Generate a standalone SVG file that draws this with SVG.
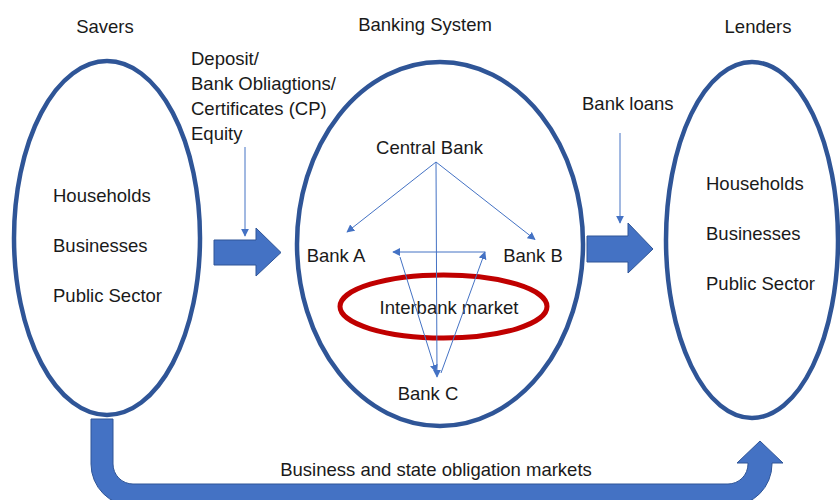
<svg xmlns="http://www.w3.org/2000/svg" width="840" height="500" viewBox="0 0 840 500">
  <style>
    .lbl { font-family: "Liberation Sans", Arial, sans-serif; font-size: 18.5px; fill: #1a1a1a; }
    .big { fill: #fff; stroke: #2F5597; stroke-width: 4.5; }
    .blk { fill: #4472C4; stroke: #2F5597; stroke-width: 1; }
    .thin { fill: none; stroke: #4472C4; stroke-width: 1; marker-end: url(#ah); }
  </style>
  <defs>
    <marker id="ah" viewBox="0 0 10 10" refX="9" refY="5" markerWidth="8" markerHeight="8" markerUnits="userSpaceOnUse" orient="auto">
      <path d="M0,0 L10,5 L0,10 z" fill="#4472C4"/>
    </marker>
  </defs>
  <rect width="840" height="500" fill="#fff"/>

  <!-- bottom U-shaped flow arrow from savers to lenders -->
  <g id="market-flow">
    <path class="blk" d="M91,419 L91,464 A42,42 0 0 0 133,506 L730,506 A42,42 0 0 0 772,464 L772,463 L783,463 L760,441 L737,463 L748,463 L748,464 A20,20 0 0 1 728,484 L133,484 A20,20 0 0 1 113,464 L113,419 Z"/>
    <text class="lbl" x="436" y="476" text-anchor="middle">Business and state obligation markets</text>
  </g>

  <!-- savers -->
  <g id="savers">
    <ellipse class="big" cx="107" cy="238" rx="93" ry="177"/>
    <text class="lbl" x="105" y="33" text-anchor="middle">Savers</text>
    <text class="lbl" x="53" y="202">Households</text>
    <text class="lbl" x="53" y="252">Businesses</text>
    <text class="lbl" x="53" y="302">Public Sector</text>
  </g>

  <!-- banking system -->
  <g id="banking-system">
    <ellipse class="big" cx="440" cy="244" rx="143" ry="182"/>
    <text class="lbl" x="425" y="31" text-anchor="middle">Banking System</text>
  </g>

  <g id="interbank-market">
    <ellipse cx="443.5" cy="306.5" rx="103.5" ry="31.5" fill="none" stroke="#C00000" stroke-width="5"/>
    <text class="lbl" x="449" y="314" text-anchor="middle">Interbank market</text>
  </g>

  <g id="central-bank">
    <text class="lbl" x="429.5" y="154" text-anchor="middle">Central Bank</text>
  </g>
  <g id="bank-a">
    <text class="lbl" x="336" y="262" text-anchor="middle">Bank A</text>
  </g>
  <g id="bank-b">
    <text class="lbl" x="533" y="262" text-anchor="middle">Bank B</text>
  </g>
  <g id="bank-c">
    <text class="lbl" x="428" y="400" text-anchor="middle">Bank C</text>
  </g>

  <!-- lenders -->
  <g id="lenders">
    <ellipse class="big" cx="752" cy="240" rx="86" ry="178"/>
    <text class="lbl" x="758" y="33" text-anchor="middle">Lenders</text>
    <text class="lbl" x="706" y="190">Households</text>
    <text class="lbl" x="706" y="240">Businesses</text>
    <text class="lbl" x="706" y="290">Public Sector</text>
  </g>

  <!-- flow labels -->
  <g id="deposit-label">
    <text class="lbl" x="191" y="65">Deposit/</text>
    <text class="lbl" x="191" y="90">Bank Obliagtions/</text>
    <text class="lbl" x="191" y="115">Certificates (CP)</text>
    <text class="lbl" x="191" y="140">Equity</text>
  </g>
  <g id="loans-label">
    <text class="lbl" x="582" y="110">Bank loans</text>
  </g>

  <!-- block arrows between sectors -->
  <g id="savings-arrow">
    <path class="blk" d="M214,240 L256,240 L256,228 L281,252.5 L256,276 L256,265 L214,265 Z"/>
  </g>
  <g id="loans-arrow">
    <path class="blk" d="M587,236 L628,236 L628,223 L653,249 L628,273 L628,262 L587,262 Z"/>
  </g>

  <!-- connectors -->
  <g id="connectors">
    <line class="thin" x1="245" y1="147" x2="245" y2="236"/>
    <line class="thin" x1="620" y1="133" x2="620" y2="223"/>
    <line class="thin" x1="436" y1="162" x2="347" y2="232"/>
    <line class="thin" x1="436" y1="162" x2="535" y2="239.5"/>
    <line class="thin" x1="436" y1="162" x2="437" y2="377"/>
    <line class="thin" x1="441" y1="373" x2="485" y2="252"/>
    <line class="thin" x1="485" y1="252" x2="393" y2="252"/>
    <line class="thin" x1="400" y1="257" x2="436" y2="372"/>
  </g>
</svg>
